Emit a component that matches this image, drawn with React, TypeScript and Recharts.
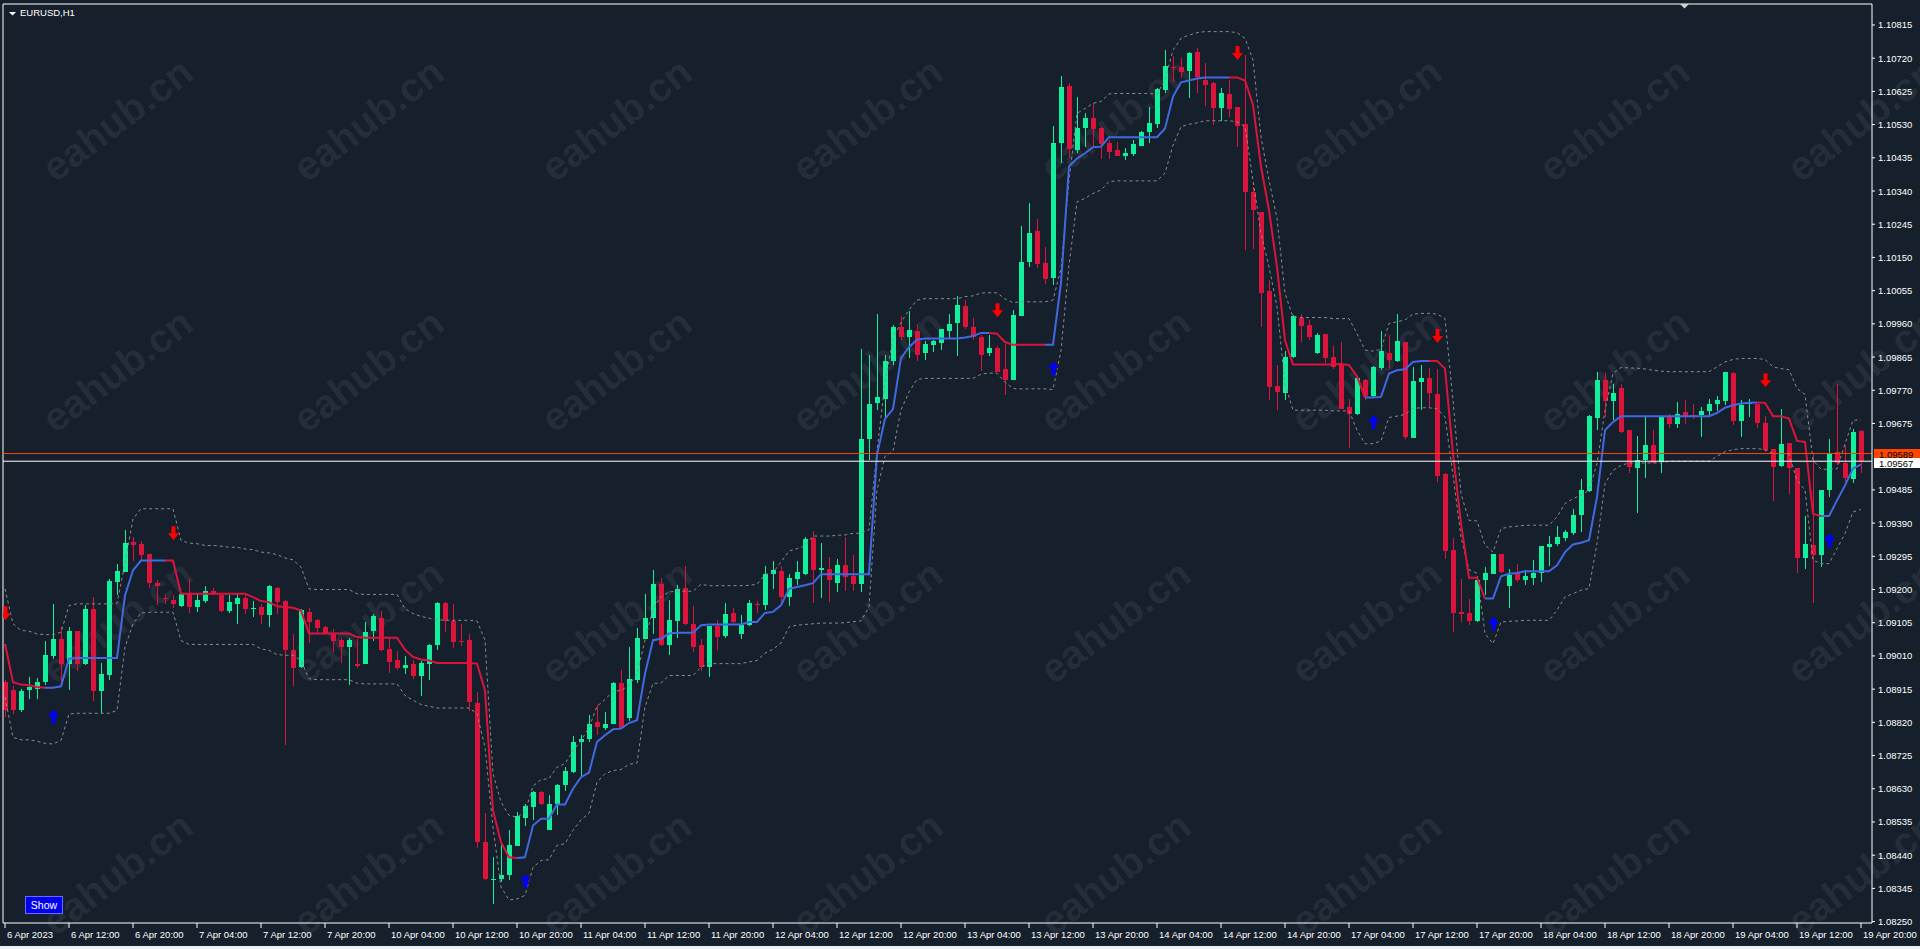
import React from "react";
import { ComposedChart, Bar, Line, Scatter, XAxis, YAxis, ReferenceLine } from "recharts";

const FONT = "'Liberation Sans', Arial, sans-serif";
const BG = "#161f2c";
const BULL = "#12f09c";
const BEAR = "#dc143c";
const BLUE = "#4169e1";
const BAND = "#8c8c8c";

// prices are stored in points: 9567 -> 1.09567
const P = (v: number) => 1 + v / 100000;

const timeLabels = [
  "6 Apr 2023", "6 Apr 12:00", "6 Apr 20:00", "7 Apr 04:00", "7 Apr 12:00", "7 Apr 20:00",
  "10 Apr 04:00", "10 Apr 12:00", "10 Apr 20:00", "11 Apr 04:00", "11 Apr 12:00", "11 Apr 20:00",
  "12 Apr 04:00", "12 Apr 12:00", "12 Apr 20:00", "13 Apr 04:00", "13 Apr 12:00", "13 Apr 20:00",
  "14 Apr 04:00", "14 Apr 12:00", "14 Apr 20:00", "17 Apr 04:00", "17 Apr 12:00", "17 Apr 20:00",
  "18 Apr 04:00", "18 Apr 12:00", "18 Apr 20:00", "19 Apr 04:00", "19 Apr 12:00", "19 Apr 20:00",
];

const priceTicks = [
  1.0825, 1.08345, 1.0844, 1.08535, 1.0863, 1.08725, 1.0882, 1.08915, 1.0901, 1.09105, 1.092,
  1.09295, 1.0939, 1.09485, 1.09675, 1.0977, 1.09865, 1.0996, 1.10055, 1.1015, 1.10245,
  1.1034, 1.10435, 1.1053, 1.10625, 1.1072, 1.10815,
];

const opens = [
  8935, 8913, 8854, 8913, 8916, 8935, 9011, 9059, 8987, 9080,
  8987, 9145, 8909, 8956, 9221, 9250, 9336, 9329, 9302, 9219,
  9176, 9169, 9154, 9188, 9150, 9167, 9197, 9183, 9138, 9159,
  9175, 9143, 9149, 9126, 9205, 9166, 9026, 8978, 9137, 9112,
  9093, 9074, 9057, 9035, 8988, 8986, 9080, 9119, 9029, 8997,
  8976, 8986, 8954, 8986, 9040, 9161, 9109, 9054, 9055, 8876,
  8477, 8369, 8372, 8382, 8465, 8546, 8579, 8620, 8511, 8585,
  8640, 8678, 8764, 8771, 8821, 8805, 8816, 8933, 8832, 8942,
  9059, 9118, 9217, 9040, 9110, 9205, 9100, 9040, 8978, 9095,
  9066, 9134, 9072, 9099, 9159, 9155, 9245, 9252, 9179, 9229,
  9244, 9348, 9256, 9259, 9220, 9269, 9238, 9215, 9630, 9734,
  9745, 9855, 9952, 9923, 9939, 9877, 9900, 9905, 9939, 9962,
  10010, 9952, 9921, 9877, 9891, 9831, 9799, 9983, 10136, 10225,
  10133, 10092, 10478, 10639, 10457, 10521, 10550, 10521, 10478, 10457,
  10441, 10446, 10469, 10510, 10532, 10629, 10696, 10696, 10683, 10738,
  10658, 10650, 10578, 10617, 10579, 10531, 10336, 10279, 10054, 9782,
  9763, 9864, 9978, 9956, 9877, 9930, 9864, 9845, 9722, 9702,
  9799, 9753, 9835, 9877, 9853, 9909, 9634, 9794, 9806, 9758,
  9530, 9312, 9136, 9133, 9109, 9226, 9245, 9301, 9209, 9246,
  9226, 9234, 9246, 9322, 9329, 9346, 9362, 9412, 9481, 9691,
  9799, 9739, 9777, 9656, 9549, 9570, 9613, 9565, 9694, 9673,
  9708, 9699, 9699, 9710, 9732, 9740, 9820, 9682, 9730, 9732,
  9675, 9601, 9553, 9620, 9549, 9291, 9328, 9300, 9486, 9594,
  9563, 9517, 9654,
];

const highs = [
  8940, 8923, 8916, 8951, 8947, 9054, 9159, 9094, 9094, 9080,
  9157, 9180, 8989, 9229, 9274, 9369, 9350, 9340, 9302, 9226,
  9188, 9185, 9190, 9231, 9188, 9209, 9205, 9185, 9183, 9188,
  9188, 9166, 9159, 9212, 9207, 9169, 9072, 9145, 9147, 9116,
  9097, 9088, 9062, 9062, 9059, 9107, 9129, 9138, 9062, 9024,
  9009, 8997, 8995, 9045, 9164, 9164, 9158, 9102, 9074, 8907,
  8561, 8434, 8468, 8513, 8563, 8587, 8623, 8623, 8611, 8644,
  8692, 8780, 8783, 8842, 8870, 8851, 8935, 8969, 9035, 9091,
  9188, 9257, 9234, 9169, 9212, 9267, 9152, 9059, 9095, 9112,
  9162, 9148, 9126, 9169, 9166, 9266, 9281, 9266, 9243, 9282,
  9350, 9366, 9332, 9292, 9286, 9351, 9300, 9888, 9870, 9987,
  9870, 9956, 9982, 9997, 9956, 9911, 9915, 9946, 9987, 10041,
  10028, 9977, 9929, 9929, 9898, 9903, 10000, 10240, 10305, 10261,
  10179, 10527, 10670, 10649, 10610, 10564, 10591, 10524, 10486, 10481,
  10462, 10486, 10513, 10579, 10634, 10743, 10727, 10720, 10739, 10750,
  10707, 10653, 10634, 10658, 10579, 10729, 10352, 10281, 10085, 9842,
  9883, 9985, 9988, 9971, 9935, 9930, 9896, 9909, 9746, 9810,
  9801, 9839, 9939, 9928, 9988, 9909, 9837, 9842, 9834, 9832,
  9532, 9348, 9231, 9174, 9228, 9263, 9303, 9301, 9260, 9274,
  9255, 9284, 9324, 9352, 9381, 9371, 9430, 9515, 9699, 9823,
  9818, 9789, 9789, 9656, 9638, 9696, 9656, 9696, 9703, 9737,
  9741, 9732, 9722, 9746, 9753, 9823, 9823, 9741, 9746, 9732,
  9696, 9601, 9715, 9620, 9549, 9409, 9589, 9486, 9632, 9789,
  9613, 9660, 9656,
];

const lows = [
  8835, 8844, 8849, 8886, 8887, 8928, 9002, 8930, 8913, 8966,
  8985, 8882, 8846, 8940, 9185, 9250, 9281, 9283, 9205, 9157,
  9159, 9148, 9151, 9133, 9135, 9161, 9183, 9137, 9132, 9102,
  9130, 9121, 9102, 9093, 9131, 8754, 8924, 8976, 9047, 9074,
  9072, 9021, 8990, 8926, 8975, 8986, 9054, 9024, 8961, 8971,
  8959, 8943, 8894, 8940, 9028, 9078, 9033, 9038, 8852, 8461,
  8369, 8301, 8363, 8368, 8465, 8523, 8541, 8584, 8511, 8554,
  8625, 8676, 8663, 8764, 8783, 8799, 8814, 8802, 8823, 8934,
  9059, 9074, 9038, 9012, 9062, 9098, 9021, 8967, 8950, 9028,
  9062, 9104, 9059, 9095, 9133, 9140, 9202, 9164, 9152, 9212,
  9241, 9160, 9177, 9165, 9194, 9197, 9197, 9194, 9571, 9714,
  9693, 9842, 9915, 9862, 9854, 9857, 9879, 9885, 9918, 9867,
  9944, 9913, 9826, 9867, 9821, 9757, 9799, 9983, 10123, 10120,
  10074, 10072, 10419, 10435, 10450, 10467, 10467, 10431, 10433, 10440,
  10429, 10441, 10469, 10478, 10521, 10621, 10653, 10664, 10607, 10619,
  10583, 10529, 10540, 10551, 10467, 10171, 10174, 9952, 9742, 9713,
  9742, 9861, 9909, 9913, 9875, 9847, 9832, 9716, 9606, 9699,
  9743, 9751, 9829, 9832, 9851, 9632, 9634, 9713, 9718, 9508,
  9288, 9079, 9107, 9098, 9107, 9183, 9244, 9247, 9148, 9222,
  9212, 9212, 9222, 9266, 9324, 9339, 9357, 9365, 9479, 9656,
  9694, 9686, 9648, 9534, 9419, 9519, 9562, 9534, 9663, 9663,
  9673, 9689, 9635, 9696, 9711, 9727, 9670, 9637, 9694, 9663,
  9594, 9453, 9551, 9472, 9247, 9260, 9160, 9263, 9465, 9555,
  9508, 9505, 9532,
];

const closes = [
  8854, 8856, 8911, 8920, 8935, 9014, 9059, 8987, 9080, 8987,
  9143, 8909, 8957, 9223, 9252, 9334, 9328, 9300, 9218, 9210,
  9173, 9159, 9188, 9150, 9171, 9197, 9188, 9138, 9163, 9175,
  9143, 9146, 9126, 9209, 9164, 9028, 8975, 9140, 9107, 9090,
  9075, 9053, 9035, 9057, 8981, 9078, 9123, 9026, 8994, 8976,
  8983, 8952, 8990, 9040, 9161, 9109, 9050, 9052, 8878, 8477,
  8372, 8372, 8382, 8468, 8551, 8582, 8620, 8587, 8587, 8641,
  8680, 8765, 8773, 8816, 8807, 8816, 8933, 8805, 8945, 9062,
  9119, 9217, 9040, 9112, 9202, 9102, 9035, 8978, 9095, 9064,
  9131, 9107, 9098, 9162, 9157, 9245, 9255, 9180, 9233, 9250,
  9344, 9256, 9261, 9228, 9269, 9235, 9215, 9630, 9732, 9750,
  9855, 9951, 9923, 9942, 9872, 9903, 9910, 9944, 9961, 10013,
  9951, 9923, 9872, 9891, 9823, 9799, 9985, 10138, 10220, 10131,
  10089, 10478, 10637, 10460, 10521, 10550, 10517, 10474, 10452, 10440,
  10448, 10474, 10510, 10535, 10631, 10698, 10693, 10681, 10736, 10667,
  10643, 10578, 10621, 10575, 10527, 10338, 10286, 10049, 9780, 9766,
  9866, 9982, 9954, 9923, 9928, 9861, 9837, 9716, 9703, 9804,
  9753, 9837, 9882, 9856, 9911, 9637, 9797, 9806, 9761, 9525,
  9310, 9133, 9131, 9109, 9228, 9247, 9301, 9250, 9241, 9226,
  9239, 9246, 9324, 9331, 9349, 9365, 9412, 9484, 9696, 9799,
  9740, 9763, 9651, 9551, 9570, 9613, 9562, 9694, 9673, 9703,
  9696, 9696, 9710, 9730, 9741, 9821, 9682, 9729, 9737, 9675,
  9598, 9551, 9617, 9549, 9291, 9329, 9298, 9486, 9589, 9562,
  9519, 9651, 9567,
];

// trend line of the indicator
const midLine = [
  9045, 8935, 8928, 8926, 8921, 8919, 8919, 8923, 9002, 9004,
  9004, 9004, 9004, 9004, 9004, 9183, 9255, 9283, 9283, 9283,
  9283, 9283, 9188, 9188, 9188, 9188, 9188, 9188, 9188, 9188,
  9188, 9178, 9167, 9164, 9152, 9150, 9148, 9140, 9074, 9074,
  9074, 9074, 9074, 9074, 9064, 9062, 9062, 9062, 9062, 9062,
  9028, 9007, 9000, 8997, 8990, 8990, 8990, 8990, 8990, 8988,
  8911, 8568, 8477, 8434, 8432, 8434, 8525, 8544, 8544, 8585,
  8585, 8630, 8663, 8676, 8764, 8783, 8800, 8802, 8818, 8826,
  8959, 9055, 9059, 9074, 9076, 9076, 9076, 9098, 9100, 9100,
  9100, 9100, 9100, 9107, 9107, 9133, 9136, 9155, 9202, 9207,
  9212, 9218, 9244, 9244, 9244, 9244, 9244, 9244, 9244, 9586,
  9688, 9716, 9862, 9893, 9915, 9918, 9918, 9918, 9918, 9918,
  9921, 9925, 9934, 9934, 9932, 9908, 9900, 9900, 9900, 9900,
  9900, 9900, 10077, 10410, 10433, 10448, 10465, 10467, 10494, 10494,
  10494, 10494, 10494, 10494, 10494, 10519, 10610, 10651, 10656, 10662,
  10665, 10665, 10665, 10665, 10665, 10656, 10586, 10410, 10285, 10123,
  9913, 9844, 9844, 9844, 9844, 9844, 9844, 9845, 9842, 9810,
  9749, 9749, 9751, 9818, 9827, 9830, 9851, 9854, 9854, 9854,
  9832, 9589, 9389, 9234, 9234, 9174, 9174, 9238, 9245, 9247,
  9252, 9252, 9252, 9252, 9269, 9307, 9329, 9334, 9341, 9465,
  9656, 9679, 9696, 9696, 9696, 9696, 9696, 9696, 9696, 9696,
  9696, 9696, 9696, 9696, 9705, 9720, 9727, 9732, 9734, 9735,
  9734, 9696, 9696, 9689, 9625, 9622, 9417, 9410, 9410, 9455,
  9498, 9546, 9558,
];

const upperBand = [
  9202, 9102, 9083, 9081, 9073, 9071, 9071, 9078, 9154, 9159,
  9159, 9159, 9159, 9159, 9161, 9274, 9402, 9431, 9431, 9431,
  9431, 9431, 9340, 9333, 9331, 9326, 9326, 9324, 9321, 9321,
  9316, 9314, 9307, 9305, 9300, 9290, 9285, 9264, 9202, 9200,
  9200, 9200, 9200, 9200, 9188, 9186, 9186, 9186, 9186, 9186,
  9145, 9131, 9123, 9118, 9114, 9112, 9112, 9112, 9112, 9110,
  9055, 8673, 8592, 8554, 8549, 8563, 8638, 8656, 8659, 8692,
  8702, 8738, 8768, 8805, 8866, 8885, 8909, 8911, 8926, 8959,
  9055, 9145, 9179, 9193, 9195, 9195, 9195, 9215, 9211, 9211,
  9211, 9211, 9211, 9212, 9215, 9243, 9248, 9279, 9310, 9317,
  9325, 9353, 9353, 9353, 9355, 9356, 9361, 9361, 9371, 9596,
  9791, 9918, 9964, 10000, 10028, 10032, 10032, 10032, 10032, 10032,
  10038, 10040, 10048, 10049, 10049, 10031, 10021, 10023, 10023, 10023,
  10023, 10028, 10118, 10370, 10562, 10576, 10591, 10596, 10618, 10619,
  10619, 10619, 10619, 10619, 10617, 10658, 10743, 10777, 10786, 10793,
  10796, 10796, 10796, 10796, 10793, 10777, 10715, 10495, 10371, 10262,
  10047, 9980, 9978, 9978, 9978, 9978, 9975, 9975, 9975, 9932,
  9885, 9882, 9887, 9961, 9966, 9971, 9988, 9990, 9990, 9988,
  9975, 9742, 9474, 9398, 9396, 9327, 9307, 9374, 9379, 9381,
  9384, 9384, 9384, 9384, 9408, 9446, 9460, 9470, 9484, 9560,
  9713, 9818, 9835, 9834, 9833, 9831, 9827, 9825, 9823, 9823,
  9823, 9823, 9823, 9823, 9837, 9851, 9858, 9861, 9861, 9861,
  9858, 9837, 9832, 9829, 9775, 9758, 9570, 9544, 9544, 9545,
  9617, 9684, 9686,
];

const lowerBand = [
  8892, 8777, 8770, 8770, 8766, 8760, 8758, 8768, 8844, 8846,
  8846, 8846, 8846, 8846, 8854, 9035, 9102, 9133, 9135, 9135,
  9135, 9135, 9054, 9043, 9043, 9043, 9043, 9043, 9043, 9043,
  9043, 9043, 9030, 9026, 9014, 9012, 9012, 8997, 8945, 8942,
  8942, 8942, 8942, 8942, 8932, 8930, 8930, 8930, 8930, 8930,
  8897, 8883, 8871, 8866, 8861, 8861, 8861, 8861, 8861, 8845,
  8749, 8520, 8349, 8312, 8315, 8325, 8405, 8425, 8427, 8468,
  8473, 8511, 8541, 8560, 8649, 8673, 8682, 8685, 8700, 8704,
  8864, 8931, 8933, 8954, 8954, 8954, 8954, 8978, 8988, 8988,
  8988, 8988, 8988, 8993, 8997, 9018, 9029, 9047, 9093, 9098,
  9100, 9102, 9104, 9104, 9104, 9105, 9108, 9110, 9150, 9484,
  9581, 9596, 9714, 9765, 9801, 9804, 9804, 9804, 9804, 9804,
  9804, 9804, 9816, 9819, 9819, 9793, 9775, 9774, 9774, 9774,
  9774, 9772, 9883, 10128, 10309, 10319, 10333, 10343, 10367, 10369,
  10369, 10369, 10369, 10369, 10369, 10391, 10471, 10524, 10531, 10535,
  10541, 10541, 10541, 10541, 10538, 10524, 10371, 10219, 10123, 10009,
  9789, 9713, 9713, 9713, 9713, 9713, 9711, 9711, 9711, 9656,
  9617, 9617, 9625, 9692, 9696, 9701, 9718, 9720, 9720, 9717,
  9694, 9527, 9350, 9257, 9246, 9074, 9045, 9107, 9109, 9110,
  9112, 9112, 9112, 9112, 9141, 9179, 9188, 9198, 9203, 9331,
  9503, 9541, 9555, 9562, 9562, 9562, 9562, 9562, 9567, 9567,
  9567, 9567, 9567, 9567, 9581, 9594, 9600, 9603, 9603, 9603,
  9600, 9589, 9589, 9587, 9513, 9484, 9284, 9274, 9274, 9317,
  9360, 9422, 9429,
];

// bars where the trend line changes colour (starts red)
const trendFlips = [5, 20, 64, 123, 130, 153, 170, 178, 185, 219, 227];

// signal arrows: bar index and price level of the arrow centre
const sellBars = [0, 21, 124, 154, 179, 220];
const sellLevels = [9132, 9361, 9999, 10735, 9925, 9799];
const buyBars = [6, 65, 131, 171, 186, 228];
const buyLevels = [8837, 8367, 9833, 9679, 9103, 9341];

const segs: { from: number; to: number; up: boolean }[] = [];
{
  let prev = 0;
  let up = false;
  for (const f of trendFlips) {
    segs.push({ from: prev, to: f, up });
    prev = f;
    up = !up;
  }
  segs.push({ from: prev, to: closes.length - 1, up });
}
const inSeg = (i: number, up: boolean) => segs.some(s => s.up === up && i >= s.from && i <= s.to);

const rows = closes.map((c, i) => ({
  i,
  open: P(opens[i]),
  high: P(highs[i]),
  low: P(lows[i]),
  close: P(c),
  hl: [P(lows[i]), P(highs[i])],
  upper: P(upperBand[i]),
  lower: P(lowerBand[i]),
  midUp: inSeg(i, true) ? P(midLine[i]) : null,
  midDn: inSeg(i, false) ? P(midLine[i]) : null,
}));

const sellRows = sellBars.map((b, k) => ({ i: b, v: P(sellLevels[k]) }));
const buyRows = buyBars.map((b, k) => ({ i: b, v: P(buyLevels[k]) }));

const tickIdx = timeLabels.map((_, k) => k * 8);

const Candle = (props: any) => {
  const { x, y, width, height, payload } = props;
  if (x == null || !payload) return null;
  const cx = Math.round(x + width / 2);
  const top = Math.min(y, y + height);
  const h = Math.abs(height);
  const span = payload.high - payload.low;
  const py = (p: number) => (span > 0 ? top + ((payload.high - p) / span) * h : top);
  const yo = py(payload.open);
  const yc = py(payload.close);
  const bTop = Math.round(Math.min(yo, yc));
  const bBot = Math.round(Math.max(yo, yc));
  const color = payload.close >= payload.open ? BULL : BEAR;
  const wTop = Math.round(top);
  const wBot = Math.round(top + h);
  return (
    <g>
      <rect x={cx} y={wTop} width={1} height={Math.max(1, wBot - wTop)} fill={color} />
      <rect x={cx - 2} y={bTop} width={5} height={Math.max(1, bBot - bTop)} fill={color} />
    </g>
  );
};

const SellArrow = (props: any) => {
  const { cx, cy } = props;
  if (cx == null) return null;
  const x = cx + 0.5;
  return <path d={`M${x - 2},${cy - 7}H${x + 2}V${cy}H${x + 5.5}L${x},${cy + 7}L${x - 5.5},${cy}H${x - 2}Z`} fill="#ff0000" />;
};

const BuyArrow = (props: any) => {
  const { cx, cy } = props;
  if (cx == null) return null;
  const x = cx + 0.5;
  return <path d={`M${x - 2},${cy + 7}H${x + 2}V${cy}H${x + 5.5}L${x},${cy - 7}L${x - 5.5},${cy}H${x - 2}Z`} fill="#0000ff" />;
};

const TimeTick = (props: any) => {
  const { x, y, payload } = props;
  return (
    <text x={x + 2} y={y + 7.5} fill="#ffffff" fontSize={9.5} fontFamily={FONT}>
      {timeLabels[Math.round(payload.value / 8)]}
    </text>
  );
};

const PriceTick = (props: any) => {
  const { x, y, payload } = props;
  return (
    <text x={x + 1} y={y + 3.5} fill="#ffffff" fontSize={9.5} fontFamily={FONT}>
      {Number(payload.value).toFixed(5)}
    </text>
  );
};

const PriceTag = (props: any) => {
  const { viewBox, text, fill, off } = props;
  if (!viewBox) return null;
  const x = viewBox.x + viewBox.width + 2;
  const y = Math.round(viewBox.y) + off;
  return (
    <g>
      <rect x={x} y={y} width={46} height={10} fill={fill} />
      <text x={x + 5} y={y + 8.5} fill="#000000" fontSize={9.5} fontFamily={FONT}>{text}</text>
    </g>
  );
};

const wmCols = [119, 370, 618, 869, 1117, 1368, 1616, 1864];
const wmRows = [122, 373, 624, 876];

export default function App() {
  return (
    <div style={{ position: "fixed", left: 0, top: 0, width: 1920, height: 949, background: BG, overflow: "hidden" }}>
      {/* watermark */}
      <svg width={1920} height={949} style={{ position: "absolute", left: 0, top: 0 }}>
        {wmRows.map(ry =>
          wmCols.map(cx => (
            <text key={`${cx}-${ry}`} x={cx} y={ry} textAnchor="middle" dominantBaseline="middle"
              transform={`rotate(-37 ${cx} ${ry})`} fontSize={40} fontWeight="bold" fontFamily={FONT}
              fill="#ffffff" fillOpacity={0.07}>eahub.cn</text>
          ))
        )}
      </svg>

      <div style={{ position: "absolute", left: 0, top: 0 }}>
        <ComposedChart width={1920} height={949} data={rows} margin={{ top: 4, right: 0, bottom: 0, left: 3 }}>
          <XAxis dataKey="i" type="number" domain={[-0.25, 233.375]} allowDataOverflow ticks={tickIdx} interval={0}
            height={26} tickSize={5} axisLine={{ stroke: "#ffffff" }} tickLine={{ stroke: "#ffffff" }} tick={<TimeTick />} />
          <YAxis orientation="right" type="number" domain={[1.08246, 1.10875]} allowDataOverflow ticks={priceTicks}
            interval={0} width={48} tickSize={3} axisLine={{ stroke: "#ffffff" }} tickLine={{ stroke: "#ffffff" }} tick={<PriceTick />} />

          <ReferenceLine x={-0.25} stroke="#ffffff" />
          <ReferenceLine y={1.10875} stroke="#ffffff" />

          <Line dataKey="upper" stroke={BAND} strokeWidth={1} strokeDasharray="3 3" dot={false} isAnimationActive={false} />
          <Line dataKey="lower" stroke={BAND} strokeWidth={1} strokeDasharray="3 3" dot={false} isAnimationActive={false} />

          <Bar dataKey="hl" barSize={7} shape={<Candle />} isAnimationActive={false} />

          <Line dataKey="midDn" stroke={BEAR} strokeWidth={2} dot={false} connectNulls={false} isAnimationActive={false} />
          <Line dataKey="midUp" stroke={BLUE} strokeWidth={2} dot={false} connectNulls={false} isAnimationActive={false} />

          <ReferenceLine y={1.09589} stroke="#ff4500" label={<PriceTag text="1.09589" fill="#ff4500" off={-5} />} />
          <ReferenceLine y={1.09567} stroke="#ffffff" label={<PriceTag text="1.09567" fill="#ffffff" off={-3} />} />

          <Scatter data={sellRows} dataKey="v" shape={(p: any) => <SellArrow {...p} />} isAnimationActive={false} />
          <Scatter data={buyRows} dataKey="v" shape={(p: any) => <BuyArrow {...p} />} isAnimationActive={false} />
        </ComposedChart>
      </div>

      {/* terminal furniture */}
      <svg width={1920} height={949} style={{ position: "absolute", left: 0, top: 0, pointerEvents: "none" }}>
        <path d="M9,12H16L12.5,15.5Z" fill="#ffffff" />
        <text x={20} y={16} fill="#ffffff" fontSize={9.5} fontFamily={FONT}>EURUSD,H1</text>
        <path d="M1680,4H1689L1684.5,8.5Z" fill="#d0d0d0" />
      </svg>
      <div style={{ position: "absolute", left: 25, top: 896, width: 38, height: 18, background: "#0000ee", border: "1px solid #6a6aff", boxSizing: "border-box", color: "#ffffff", fontFamily: FONT, fontSize: 10.5, lineHeight: "16px", textAlign: "center" }}>Show</div>
      <div style={{ position: "absolute", left: 0, top: 946, width: 1920, height: 3, background: "#f0f0f0" }} />
    </div>
  );
}
